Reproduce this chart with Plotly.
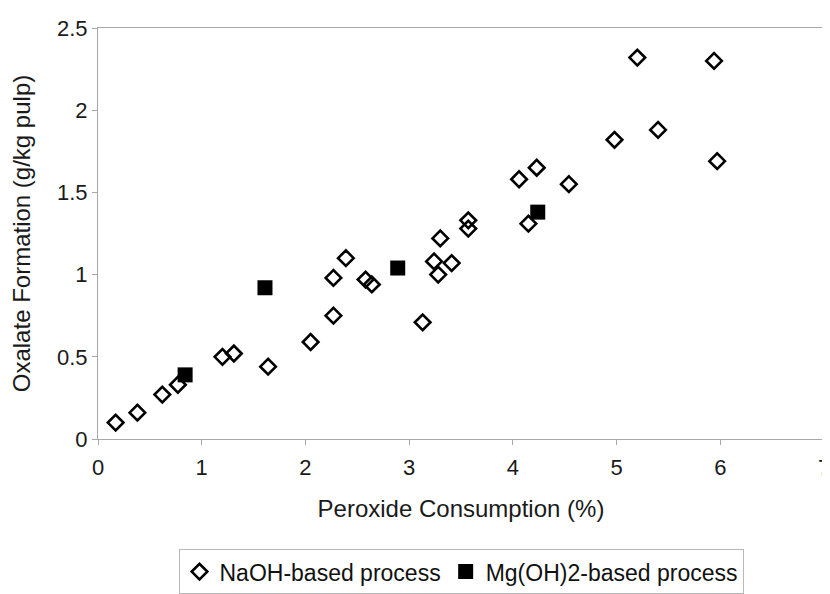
import plotly.graph_objects as go

naoh_x = [0.17, 0.38, 0.62, 0.77, 1.20, 1.31, 1.64, 2.05, 2.27, 2.27, 2.39, 2.58, 2.64,
          3.13, 3.24, 3.30, 3.28, 3.41, 3.57, 3.57, 4.06, 4.15, 4.23, 4.54, 4.98, 5.20,
          5.40, 5.94, 5.97]
naoh_y = [0.10, 0.16, 0.27, 0.33, 0.50, 0.52, 0.44, 0.59, 0.75, 0.98, 1.10, 0.97, 0.94,
          0.71, 1.08, 1.22, 1.00, 1.07, 1.33, 1.28, 1.58, 1.31, 1.65, 1.55, 1.82, 2.32,
          1.88, 2.30, 1.69]
mg_x = [0.84, 1.61, 2.89, 4.24]
mg_y = [0.39, 0.92, 1.04, 1.38]

x_ticks = [0, 1, 2, 3, 4, 5, 6, 7]
y_ticks = [0, 0.5, 1, 1.5, 2, 2.5]
y_tick_text = ["0", "0.5", "1", "1.5", "2", "2.5"]

FONT = "Liberation Sans, Arial, sans-serif"
TXT = "#1a1a1a"
LINE = "#a8a8a8"

fig = go.Figure()
fig.add_trace(go.Scatter(
    x=naoh_x, y=naoh_y, mode="markers", name="NaOH-based process",
    marker=dict(symbol="diamond-open", size=12, color="black", line=dict(width=2.6, color="black")),
))
fig.add_trace(go.Scatter(
    x=mg_x, y=mg_y, mode="markers", name="Mg(OH)2-based process",
    marker=dict(symbol="square", size=15, color="black", line=dict(width=0)),
))

fig.update_layout(
    width=830, height=594,
    margin=dict(l=90, r=8, t=20, b=146),
    paper_bgcolor="white", plot_bgcolor="white",
    font=dict(family=FONT, size=22, color=TXT),
    showlegend=True,
    legend=dict(
        orientation="h", x=0.5, xanchor="center", y=-0.268, yanchor="top",
        font=dict(family=FONT, size=23, color="#111111"),
        bordercolor="#b8b8b8", borderwidth=1, bgcolor="white",
        itemsizing="trace", tracegroupgap=0, itemwidth=30,
    ),
    xaxis=dict(
        range=[0, 7], tickvals=x_ticks, ticktext=[str(t) for t in x_ticks],
        showgrid=False, zeroline=False,
        showline=True, linecolor=LINE, linewidth=1, mirror=True,
        ticks="outside", ticklen=5, tickcolor=LINE,
        ticklabelstandoff=4, ticklabeloverflow="allow",
        tickfont=dict(family=FONT, size=22, color=TXT),
        title=dict(text="Peroxide Consumption (%)", font=dict(family=FONT, size=24, color=TXT), standoff=20),
    ),
    yaxis=dict(
        range=[0, 2.5], tickvals=y_ticks, ticktext=y_tick_text,
        showgrid=False, zeroline=False,
        showline=True, linecolor=LINE, linewidth=1, mirror=True,
        ticks="outside", ticklen=5, tickcolor=LINE,
        ticklabeloverflow="allow",
        tickfont=dict(family=FONT, size=22, color=TXT),
        title=dict(text="Oxalate Formation (g/kg pulp)", font=dict(family=FONT, size=24, color=TXT), standoff=19),
    ),
)

fig.write_html("out.html")
